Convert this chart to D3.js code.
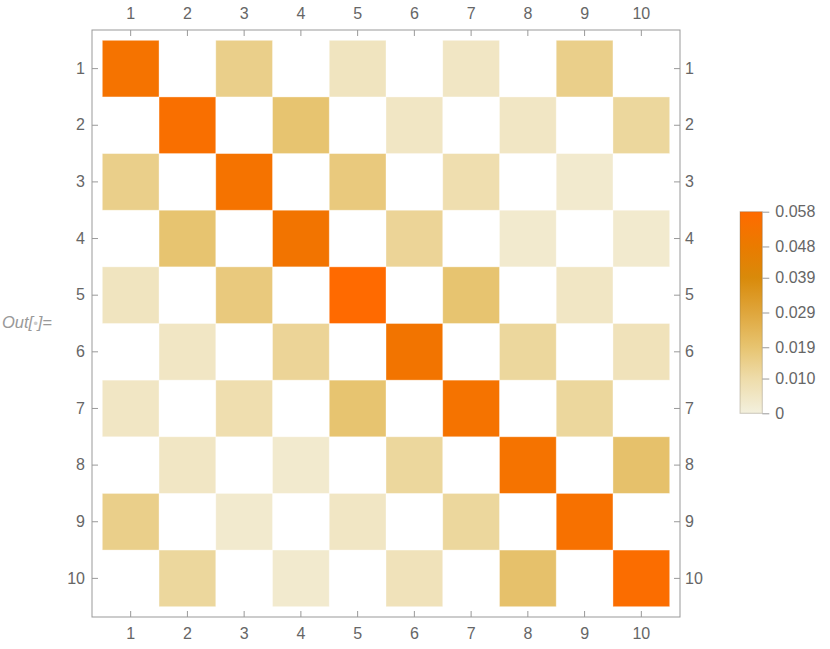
<!DOCTYPE html>
<html>
<head>
<meta charset="utf-8">
<script src="https://cdn.jsdelivr.net/npm/d3@7"></script>
<style>
  body { margin: 0; background: white; }
  text { font-family: "Liberation Sans", Arial, sans-serif; }
</style>
</head>
<body>
<script>
// matrix rows / columns
var rowLabels = [1, 2, 3, 4, 5, 6, 7, 8, 9, 10];
var colLabels = [1, 2, 3, 4, 5, 6, 7, 8, 9, 10];

// cell values (0 = empty/white cell)
var row1  = [0.053, 0, 0.015, 0, 0.006, 0, 0.005, 0, 0.015, 0];
var row2  = [0, 0.055, 0, 0.019, 0, 0.005, 0, 0.005, 0, 0.012];
var row3  = [0.015, 0, 0.053, 0, 0.017, 0, 0.009, 0, 0.003, 0];
var row4  = [0, 0.019, 0, 0.052, 0, 0.013, 0, 0.003, 0, 0.003];
var row5  = [0.006, 0, 0.017, 0, 0.058, 0, 0.019, 0, 0.005, 0];
var row6  = [0, 0.005, 0, 0.013, 0, 0.052, 0, 0.012, 0, 0.007];
var row7  = [0.005, 0, 0.009, 0, 0.019, 0, 0.053, 0, 0.012, 0];
var row8  = [0, 0.005, 0, 0.003, 0, 0.012, 0, 0.053, 0, 0.020];
var row9  = [0.015, 0, 0.003, 0, 0.005, 0, 0.012, 0, 0.054, 0];
var row10 = [0, 0.012, 0, 0.003, 0, 0.007, 0, 0.020, 0, 0.056];
var matrix = [row1, row2, row3, row4, row5, row6, row7, row8, row9, row10];

// legend ticks
var legendTicks = [0, 0.010, 0.019, 0.029, 0.039, 0.048, 0.058];
var legendLabels = ['0', '0.010', '0.019', '0.029', '0.039', '0.048', '0.058'];
var maxValue = 0.058;

var svgWidth = 830,
    svgHeight = 649;

var frame = {left: 92, top: 30, right: 680, bottom: 617};
var pad = 10.3;

var svg = d3.select('body').append('svg')
  .attr('width', svgWidth)
  .attr('height', svgHeight)

var color = d3.scaleLinear()
  .domain(legendTicks)
  .range(['#f3f0de', '#eedcaa', '#e7c470', '#dfa63c', '#d98a0a', '#ea7b00', '#ff6a00'])

var x = d3.scaleBand().domain(colLabels).range([frame.left + pad, frame.right - pad]).padding(0)
var y = d3.scaleBand().domain(rowLabels).range([frame.top + pad, frame.bottom - pad]).padding(0)

var cells = [];
matrix.forEach(function(row, i) {
  row.forEach(function(v, j) {
    if (v > 0) cells.push({r: rowLabels[i], c: colLabels[j], v: v});
  })
})

var g = svg.append('g')

g.selectAll('.cell').data(cells).enter()
  .append('rect')
  .attr('class', 'cell')
  .attr('x', d => x(d.c))
  .attr('y', d => y(d.r))
  .attr('width', x.bandwidth())
  .attr('height', y.bandwidth())
  .attr('fill', d => color(d.v))
  .attr('stroke', 'rgba(255,255,255,0.45)')
  .attr('stroke-width', 0.8)

// frame
svg.append('rect')
  .attr('x', frame.left)
  .attr('y', frame.top)
  .attr('width', frame.right - frame.left)
  .attr('height', frame.bottom - frame.top)
  .attr('fill', 'none')
  .attr('stroke', '#999')
  .attr('stroke-width', 1)

function styleAxis(sel) {
  sel.select('.domain').remove();
  sel.selectAll('line').attr('stroke', '#999');
  sel.selectAll('text')
    .attr('fill', '#666')
    .style('font-size', '16px')
    .style('font-family', '"Liberation Sans", Arial, sans-serif');
}

svg.append('g')
  .attr('transform', `translate(0,${frame.top})`)
  .call(d3.axisTop(x).tickSizeInner(-6).tickSizeOuter(0).tickPadding(11.5))
  .call(styleAxis)

svg.append('g')
  .attr('transform', `translate(0,${frame.bottom})`)
  .call(d3.axisBottom(x).tickSizeInner(-6).tickSizeOuter(0).tickPadding(10.5))
  .call(styleAxis)

svg.append('g')
  .attr('transform', `translate(${frame.left},0)`)
  .call(d3.axisLeft(y).tickSizeInner(-6).tickSizeOuter(0).tickPadding(7))
  .call(styleAxis)

svg.append('g')
  .attr('transform', `translate(${frame.right},0)`)
  .call(d3.axisRight(y).tickSizeInner(-6).tickSizeOuter(0).tickPadding(5))
  .call(styleAxis)

// colour bar legend
var bar = {x: 740, y: 211.7, w: 22.3, h: 201.6};
var ly = d3.scaleLinear().domain([0, maxValue]).range([bar.y + bar.h, bar.y])

var grad = svg.append('defs').append('linearGradient')
  .attr('id', 'bar-grad')
  .attr('x1', 0).attr('y1', 1).attr('x2', 0).attr('y2', 0)

grad.selectAll('stop').data(legendTicks).enter()
  .append('stop')
  .attr('offset', d => d / maxValue)
  .attr('stop-color', d => color(d))

svg.append('rect')
  .attr('x', bar.x)
  .attr('y', bar.y)
  .attr('width', bar.w)
  .attr('height', bar.h)
  .attr('fill', 'url(#bar-grad)')
  .attr('stroke', 'rgba(120,110,90,0.35)')
  .attr('stroke-width', 1)

var legendAxis = d3.axisRight(ly)
  .tickValues(legendTicks)
  .tickFormat((d, i) => legendLabels[i])
  .tickSizeInner(7)
  .tickSizeOuter(0)
  .tickPadding(6)

svg.append('g')
  .attr('transform', `translate(${bar.x + bar.w},0)`)
  .call(legendAxis)
  .call(styleAxis)

// "Out[•]=" cell label
var outLabel = svg.append('text')
  .attr('x', 2)
  .attr('y', 328)
  .attr('fill', '#999')
  .style('font-size', '16.5px')
  .style('font-style', 'italic')

outLabel.append('tspan').text('Out[')
outLabel.append('tspan').attr('fill', '#ccc').attr('font-size', '13px').text('\u2022')
outLabel.append('tspan').text(']=')
</script>
</body>
</html>
